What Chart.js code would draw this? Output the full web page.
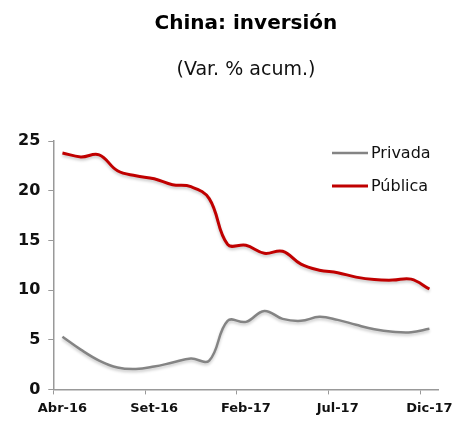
<!DOCTYPE html>
<html>
<head>
<meta charset="utf-8">
<script src="https://cdn.jsdelivr.net/npm/chart.js@4/dist/chart.umd.min.js"></script>
<style>
  html, body { margin: 0; padding: 0; background: #fff; }
  #wrap { width: 459px; height: 423px; }
</style>
</head>
<body>
<div id="wrap"><canvas id="chart"></canvas></div>
<script>
var months = ["Abr-16", "May-16", "Jun-16", "Jul-16", "Ago-16", "Set-16", "Oct-16", "Nov-16", "Dic-16",
              "Ene-17", "Feb-17", "Mar-17", "Abr-17", "May-17", "Jun-17", "Jul-17", "Ago-17", "Set-17",
              "Oct-17", "Nov-17", "Dic-17"];
var privada = [5.3, 4.0, 2.9, 2.2, 2.05, 2.3, 2.7, 3.1, 2.9, 6.9, 6.8, 7.9, 7.1, 6.9, 7.3, 7.0, 6.5, 6.05, 5.8, 5.75, 6.1];
var publica = [23.8, 23.4, 23.6, 22.0, 21.5, 21.2, 20.6, 20.4, 19.2, 14.6, 14.5, 13.7, 13.9, 12.6, 12.0, 11.75, 11.3, 11.05, 11.0, 11.1, 10.1];
var yTicks = [0, 5, 10, 15, 20, 25];
var title = "China: inversión";
var subtitle = "(Var. % acum.)";

var FONT = '"DejaVu Sans", Verdana, sans-serif';

// title + subtitle centred over the plot area (like the Excel original)
var headings = {
  id: 'headings',
  afterDraw: function(chart) {
    var ctx = chart.ctx, a = chart.chartArea;
    var cx = (a.left + a.right) / 2;
    ctx.save();
    ctx.textAlign = 'center';
    ctx.textBaseline = 'alphabetic';
    ctx.fillStyle = '#000';
    ctx.font = 'bold 20px ' + FONT;
    ctx.fillText(title, cx, 29);
    ctx.fillStyle = '#111';
    ctx.font = '19px ' + FONT;
    ctx.fillText(subtitle, cx, 75);
    ctx.restore();
  }
};

// legend drawn inside the plot, top right
var insideLegend = {
  id: 'insideLegend',
  afterDraw: function(chart) {
    var ctx = chart.ctx;
    var ys = [153, 186];
    ctx.save();
    chart.data.datasets.forEach(function(ds, i) {
      ctx.strokeStyle = ds.borderColor;
      ctx.lineWidth = ds.borderWidth;
      ctx.beginPath();
      ctx.moveTo(332, ys[i]);
      ctx.lineTo(368, ys[i]);
      ctx.stroke();
      ctx.fillStyle = '#111';
      ctx.font = '16px ' + FONT;
      ctx.textBaseline = 'middle';
      ctx.fillText(ds.label, 371, ys[i] + 1);
    });
    ctx.restore();
  }
};

var lineShadow = {
  id: 'lineShadow',
  beforeDatasetDraw: function(chart) {
    var ctx = chart.ctx;
    ctx.save();
    ctx.shadowColor = 'rgba(0,0,0,0.22)';
    ctx.shadowBlur = 3;
    ctx.shadowOffsetY = 2;
  },
  afterDatasetDraw: function(chart) {
    chart.ctx.restore();
  }
};

Chart.defaults.font.family = FONT;
Chart.defaults.color = '#111';

new Chart(document.getElementById("chart"), {
  type: 'line',
  data: {
    labels: months,
    datasets: [
      {
        label: "Privada",
        data: privada,
        borderColor: "#848484",
        borderWidth: 2.5,
        pointRadius: 0,
        tension: 0.4,
        fill: false
      },
      {
        label: "Pública",
        data: publica,
        borderColor: "#C00000",
        borderWidth: 3,
        pointRadius: 0,
        tension: 0.4,
        fill: false
      }
    ]
  },
  plugins: [lineShadow, insideLegend, headings],
  options: {
    responsive: true,
    maintainAspectRatio: false,
    animation: false,
    layout: { padding: { top: 141, left: 10, right: 15, bottom: 1 } },
    plugins: {
      legend: { display: false },
      tooltip: { enabled: false }
    },
    scales: {
      x: {
        type: 'category',
        offset: true,
        border: { display: true, color: '#999', width: 1.5 },
        grid: {
          offset: true,
          drawOnChartArea: false,
          tickLength: 5,
          tickColor: function(c) { return c.index % 5 === 0 ? '#999' : 'rgba(0,0,0,0)'; }
        },
        ticks: {
          autoSkip: false,
          maxRotation: 0,
          padding: 6,
          font: { size: 13, weight: 'bold' },
          callback: function(v, i) { return i % 5 === 0 ? months[i] : ''; }
        }
      },
      y: {
        min: 0,
        max: 25,
        border: { display: true, color: '#999', width: 1.5 },
        grid: { drawOnChartArea: false, tickLength: 5, tickColor: '#999' },
        afterBuildTicks: function(s) { s.ticks = yTicks.map(function(v) { return { value: v }; }); },
        ticks: {
          padding: 8,
          font: { size: 16, weight: 'bold' }
        }
      }
    }
  }
});
</script>
</body>
</html>
